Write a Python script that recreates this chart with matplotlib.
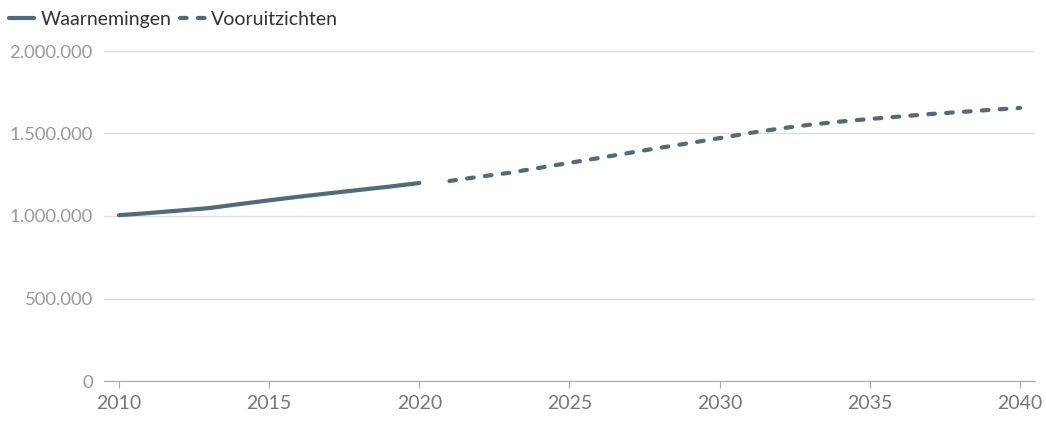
import matplotlib
matplotlib.use("Agg")
import matplotlib.pyplot as plt
from matplotlib.ticker import FuncFormatter

plt.rcParams['font.family'] = ['Lato', 'DejaVu Sans']

obs_years = list(range(2010, 2021))
obs_values = [1005000, 1018000, 1033000, 1048000, 1072000, 1095000,
              1117000, 1138000, 1158000, 1178000, 1200000]

fc_years = list(range(2021, 2041))
fc_values = [1212000, 1238000, 1262000, 1292000, 1322000, 1352000, 1383000,
             1413000, 1442000, 1472000, 1503000, 1530000, 1553000, 1572000,
             1588000, 1603000, 1618000, 1630000, 1643000, 1655000]

yticks = [0, 500000, 1000000, 1500000, 2000000]
xticks = [2010, 2015, 2020, 2025, 2030, 2035, 2040]

color = "#506b7a"

fig = plt.figure(figsize=(10.46, 4.23), dpi=100)
ax = fig.add_axes([104/1046, 1 - 381/423, (1035-104)/1046, (381-51)/423])

l1, = ax.plot(obs_years, obs_values, color=color, lw=3, solid_capstyle='round',
              label="Waarnemingen")
l2, = ax.plot(fc_years, fc_values, color=color, lw=3, dash_capstyle='round',
              linestyle=(0, (1.6, 2.7)), label="Vooruitzichten")

ax.set_xlim(2009.5, 2040.5)
ax.set_ylim(0, 2000000)
ax.set_xticks(xticks)
ax.set_yticks(yticks)
ax.yaxis.set_major_formatter(FuncFormatter(lambda v, p: f"{int(v):,}".replace(",", ".")))
ax.grid(axis='y', color='#dddddd', lw=1)
ax.set_axisbelow(True)
for s in ['top', 'right', 'left']:
    ax.spines[s].set_visible(False)
ax.spines['bottom'].set_color('#aaaaaa')
ax.tick_params(axis='y', length=0, pad=8, labelsize=13.3, labelcolor='#999999')
ax.tick_params(axis='x', length=5, color='#aaaaaa', pad=5, labelsize=14, labelcolor='#777777')

fig.legend(handles=[l1, l2], loc='upper left', bbox_to_anchor=(-0.008, 1.015), ncol=2,
           frameon=False, fontsize=14, handlelength=1.3, handletextpad=0.3,
           columnspacing=0.45, labelcolor='#333333')

fig.savefig("out.png", dpi=100)
